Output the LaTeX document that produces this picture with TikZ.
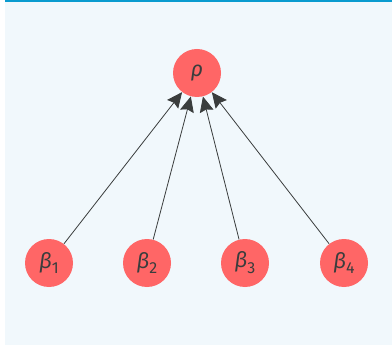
\documentclass[tikz,border=0pt]{standalone}
\usepackage{fontspec}
\setmainfont{Fira Sans}
\usetikzlibrary{arrows.meta}
\definecolor{bgc}{HTML}{F1F8FC}
\definecolor{topc}{HTML}{0A9BCF}
\definecolor{nodec}{HTML}{FF6666}
\definecolor{linec}{HTML}{3A3D3D}
\newcommand{\bsub}[1]{\raisebox{-0.28em}{\fontsize{12}{14}\selectfont\upshape #1}}
\begin{document}
\begin{tikzpicture}[x=0.75pt,y=-0.75pt,
  vnode/.style={circle,fill=nodec,draw=none,minimum size=36pt,inner sep=0pt,text=linec,font=\fontsize{16}{18}\selectfont\itshape},
  edge/.style={draw=linec,line width=0.6pt,-{Stealth[length=11.5pt,width=10.5pt,inset=1.5pt]}}]
\useasboundingbox (0,0) rectangle (392,345);
\fill[bgc] (5,0) rectangle (392,345);
\fill[topc] (5,0) rectangle (392,2.5);
\node[vnode] (rho) at (197,73) {ρ};
\node[vnode] (b1) at (49,263) {β\bsub{1}};
\node[vnode] (b2) at (147,263) {β\bsub{2}};
\node[vnode] (b3) at (245,263) {β\bsub{3}};
\node[vnode] (b4) at (344,263) {β\bsub{4}};
\draw[edge] (b1) -- (rho);
\draw[edge] (b2) -- (rho);
\draw[edge] (b3) -- (rho);
\draw[edge] (b4) -- (rho);
\end{tikzpicture}
\end{document}
